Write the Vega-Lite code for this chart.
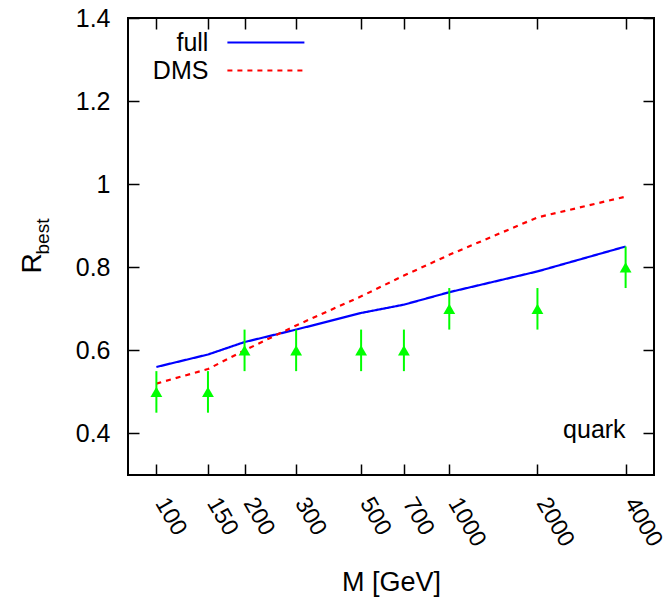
{
  "$schema": "https://vega.github.io/schema/vega-lite/v6.json",
  "width": 526,
  "height": 457,
  "autosize": {"type": "none"},
  "padding": {"left": 128, "top": 18, "right": 13, "bottom": 130},
  "background": "white",
  "config": {
    "view": {"stroke": "black", "strokeWidth": 2},
    "font": "Liberation Sans",
    "axis": {
      "labelFont": "Liberation Sans",
      "titleFont": "Liberation Sans",
      "labelFontSize": 25,
      "titleFontSize": 27,
      "titleFontWeight": "normal",
      "labelColor": "black",
      "titleColor": "black",
      "tickColor": "black",
      "tickWidth": 1.5,
      "grid": false,
      "domain": false
    },
    "legend": {
      "labelFont": "Liberation Sans",
      "labelFontSize": 25,
      "labelColor": "black"
    }
  },
  "datasets": {
    "lines": [
      {"M": 100, "R": 0.56, "series": "full"},
      {"M": 150, "R": 0.59, "series": "full"},
      {"M": 200, "R": 0.62, "series": "full"},
      {"M": 300, "R": 0.65, "series": "full"},
      {"M": 500, "R": 0.69, "series": "full"},
      {"M": 700, "R": 0.71, "series": "full"},
      {"M": 1000, "R": 0.74, "series": "full"},
      {"M": 2000, "R": 0.79, "series": "full"},
      {"M": 4000, "R": 0.85, "series": "full"},
      {"M": 100, "R": 0.52, "series": "DMS"},
      {"M": 150, "R": 0.555, "series": "DMS"},
      {"M": 200, "R": 0.60, "series": "DMS"},
      {"M": 300, "R": 0.66, "series": "DMS"},
      {"M": 500, "R": 0.73, "series": "DMS"},
      {"M": 700, "R": 0.78, "series": "DMS"},
      {"M": 1000, "R": 0.83, "series": "DMS"},
      {"M": 2000, "R": 0.92, "series": "DMS"},
      {"M": 4000, "R": 0.97, "series": "DMS"}
    ],
    "pts": [
      {"M": 100, "R": 0.5, "lo": 0.45, "hi": 0.55},
      {"M": 150, "R": 0.5, "lo": 0.45, "hi": 0.55},
      {"M": 200, "R": 0.6, "lo": 0.55, "hi": 0.65},
      {"M": 300, "R": 0.6, "lo": 0.55, "hi": 0.65},
      {"M": 500, "R": 0.6, "lo": 0.55, "hi": 0.65},
      {"M": 700, "R": 0.6, "lo": 0.55, "hi": 0.65},
      {"M": 1000, "R": 0.7, "lo": 0.65, "hi": 0.75},
      {"M": 2000, "R": 0.7, "lo": 0.65, "hi": 0.75},
      {"M": 4000, "R": 0.8, "lo": 0.75, "hi": 0.85}
    ]
  },
  "resolve": {"axis": {"x": "independent", "y": "independent"}},
  "layer": [
    {
      "data": {"name": "lines"},
      "mark": {"type": "line", "strokeWidth": 2.2, "clip": true},
      "encoding": {
        "x": {
          "field": "M", "type": "quantitative",
          "scale": {"type": "log", "domain": [80, 5000], "nice": false},
          "axis": {
            "orient": "bottom",
            "values": [100, 150, 200, 300, 500, 700, 1000, 2000, 4000],
            "format": "d",
            "title": "M [GeV]",
            "tickSize": -11,
            "labelPadding": 35,
            "labelFontSize": 23.5,
            "labelAngle": 60,
            "labelAlign": "left",
            "labelBaseline": "middle",
            "labelOffset": 4,
            "labelFlush": false,
            "labelOverlap": false,
            "titleX": 263,
            "titleY": 115,
            "titleBaseline": "alphabetic",
            "titleAlign": "center"
          }
        },
        "y": {
          "field": "R", "type": "quantitative",
          "scale": {"domain": [0.3, 1.4], "nice": false, "zero": false},
          "axis": {
            "orient": "left",
            "values": [0.4, 0.6, 0.8, 1.0, 1.2, 1.4],
            "format": "~g",
            "title": "R",
            "tickSize": -11,
            "labelPadding": 29,
            "labelFlush": false,
            "labelOverlap": false,
            "titleX": -88,
            "titleY": 245,
            "titleAngle": 270,
            "titleAlign": "center",
            "titleBaseline": "alphabetic",
            "titleFontSize": 28
          }
        },
        "color": {
          "field": "series", "type": "nominal",
          "scale": {"domain": ["full", "DMS"], "range": ["#0000ff", "#ff0000"]},
          "legend": {
            "title": null,
            "orient": "none",
            "legendX": 125.4,
            "legendY": 12,
            "padding": 0,
            "symbolType": "M-3.85,0L3.85,0",
            "symbolSize": 400,
            "symbolStrokeWidth": 2.2,
            "symbolFillColor": "transparent",
            "labelAlign": "right",
            "labelOffset": -70,
            "rowPadding": 2
          }
        },
        "strokeDash": {
          "field": "series", "type": "nominal",
          "scale": {"domain": ["full", "DMS"], "range": [[1, 0], [5, 5]]},
          "legend": {
            "title": null,
            "orient": "none",
            "legendX": 125.4,
            "legendY": 12,
            "padding": 0,
            "symbolType": "M-3.85,0L3.85,0",
            "symbolSize": 400,
            "symbolStrokeWidth": 2.2,
            "symbolFillColor": "transparent",
            "labelAlign": "right",
            "labelOffset": -70,
            "rowPadding": 2
          }
        }
      }
    },
    {
      "data": {"name": "pts"},
      "mark": {"type": "rule", "color": "#00ff00", "strokeWidth": 2},
      "encoding": {
        "x": {
          "field": "M", "type": "quantitative",
          "axis": {
            "orient": "top",
            "values": [100, 150, 200, 300, 500, 700, 1000, 2000, 4000],
            "labels": false,
            "title": null,
            "tickSize": -11
          }
        },
        "y": {
          "field": "lo", "type": "quantitative",
          "axis": {
            "orient": "right",
            "values": [0.4, 0.6, 0.8, 1.0, 1.2, 1.4],
            "labels": false,
            "title": null,
            "tickSize": -11
          }
        },
        "y2": {"field": "hi"}
      }
    },
    {
      "data": {"name": "pts"},
      "mark": {"type": "point", "shape": "triangle-up", "filled": true, "color": "#00ff00", "opacity": 1, "size": 140},
      "encoding": {
        "x": {"field": "M", "type": "quantitative", "axis": null},
        "y": {
          "field": "R", "type": "quantitative",
          "axis": {
            "orient": "left",
            "labels": false,
            "ticks": false,
            "title": "best",
            "titleFontSize": 19,
            "titleX": -80,
            "titleY": 218,
            "titleAngle": 270,
            "titleAlign": "center",
            "titleBaseline": "alphabetic"
          }
        }
      }
    },
    {
      "data": {"values": [{"label": "quark"}]},
      "mark": {"type": "text", "align": "right", "baseline": "alphabetic", "fontSize": 25, "font": "Liberation Sans", "color": "black"},
      "encoding": {
        "x": {"datum": 4000, "type": "quantitative", "axis": null},
        "y": {"datum": 0.39, "type": "quantitative", "axis": null},
        "text": {"field": "label"}
      }
    }
  ]
}
